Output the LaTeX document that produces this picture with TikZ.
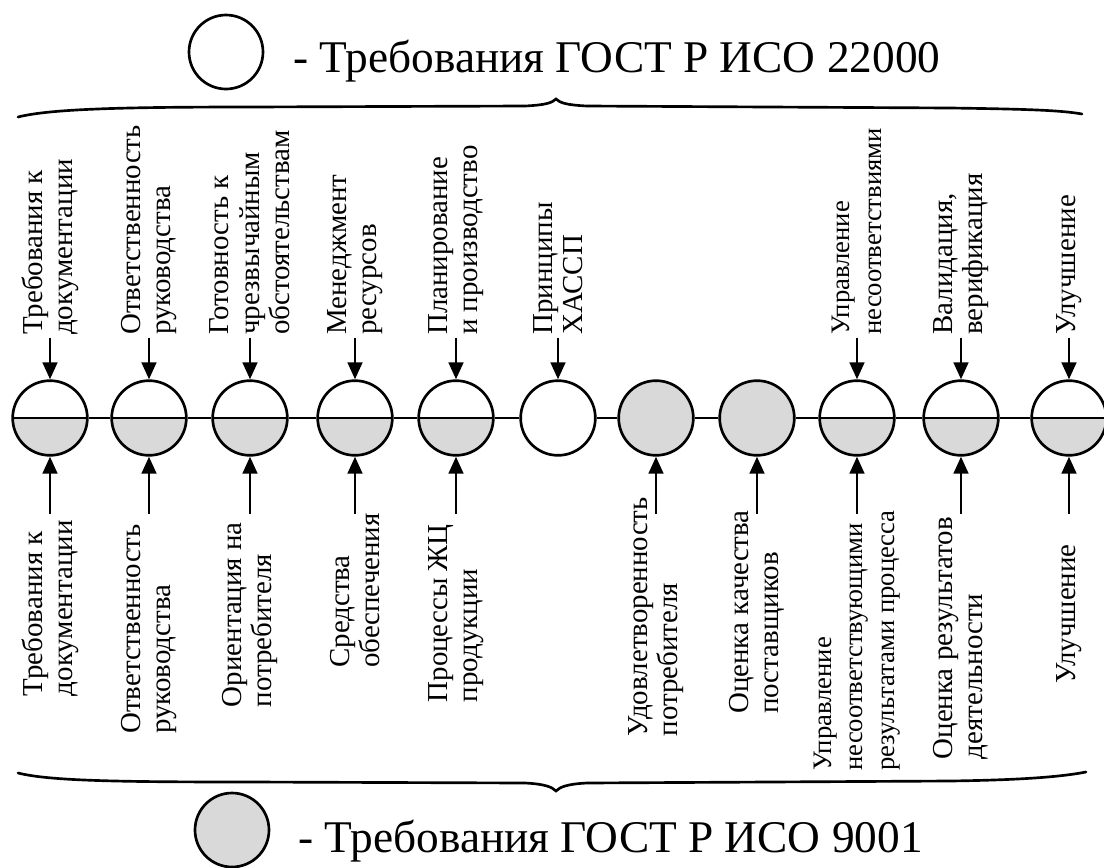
\documentclass[tikz,border=0pt]{standalone}
\usepackage{fontspec}
\setmainfont{Liberation Serif}
\usetikzlibrary{arrows.meta}
\definecolor{isogray}{RGB}{217,217,217}

\begin{document}
\begin{tikzpicture}[x=0.75pt,y=0.75pt,yscale=-1,xscale=1,
  stage/.style={circle, draw, line width=2pt, minimum size=56pt, inner sep=0pt},
  newreq/.style={stage, fill=white},
  oldreq/.style={stage, fill=isogray},
  halfreq/.style={stage, fill=white, path picture={
    \fill[isogray] (path picture bounding box.west) rectangle (path picture bounding box.south east);
    \draw[line width=1.5pt] (path picture bounding box.west) -- (path picture bounding box.east);}},
  toplabel/.style={rotate=90, anchor=west, align=left, inner sep=0pt, xshift=3pt, font=\fontsize{21.7}{22.8}\selectfont},
  botlabel/.style={rotate=90, anchor=east, align=left, inner sep=0pt, xshift=3pt, font=\fontsize{21.7}{22.8}\selectfont},
  smalllabel/.style={font=\fontsize{20}{23.5}\selectfont},
  legendtext/.style={anchor=base west, inner sep=0pt, font=\fontsize{34}{37}\selectfont},
  reqarrow/.style={line width=2pt, -{Triangle[length=12.75pt,width=11pt]}},
  axisline/.style={line width=1.5pt},
  bracestroke/.style={line width=2pt, line cap=round}
]
\useasboundingbox (0,0) rectangle (1104,868);

%Shape: Circle (legend, ISO 22000)
\node[newreq, minimum size=55.5pt] (legend-new) at (226,52) {};
% Text Node
\node[legendtext] (legend-new-text) at (293,72) {- Требования ГОСТ Р ИСО 22000};
%Curve Lines
\draw[bracestroke] (18,117) .. controls (50,109) and (120,107) .. (250,107) -- (525,106) .. controls (545,105) and (552,103) .. (556,99) .. controls (560,103) and (567,105) .. (587,106) -- (950,108) .. controls (1020,109) and (1060,110) .. (1082,114) ;

%Shape: Circle
\node[halfreq] (c-doc) at (50,418) {};
\node[halfreq] (c-resp) at (149,418) {};
\node[halfreq] (c-emerg) at (250,418) {};
\node[halfreq] (c-res) at (355,418) {};
\node[halfreq] (c-plan) at (456,418) {};
\node[newreq] (c-haccp) at (558,418) {};
\node[oldreq] (c-satisf) at (656,418) {};
\node[oldreq] (c-suppl) at (757,418) {};
\node[halfreq] (c-noncon) at (857,418) {};
\node[halfreq] (c-valid) at (961,418) {};
\node[halfreq] (c-improve) at (1069,418) {};
\coordinate (line-end) at (1104,418);

%Straight Lines
\draw[axisline] (c-doc) -- (c-resp) -- (c-emerg) -- (c-res) -- (c-plan) -- (c-haccp) -- (c-satisf) -- (c-suppl) -- (c-noncon) -- (c-valid) -- (c-improve) -- (line-end) ;

% Text Node (ISO 22000)
\node[toplabel] (t-doc) at (50,339) {Требования к\\документации};
\node[toplabel] (t-resp) at (149,339) {Ответственность\\руководства};
\node[toplabel] (t-emerg) at (250,339) {Готовность к\\чрезвычайным\\обстоятельствам};
\node[toplabel] (t-res) at (355,339) {Менеджмент\\ресурсов};
\node[toplabel] (t-plan) at (456,339) {Планирование\\и производство};
\node[toplabel] (t-haccp) at (558,339) {Принципы\\ХАССП};
\node[toplabel, smalllabel] (t-noncon) at (857,339) {Управление\\несоответствиями};
\node[toplabel] (t-valid) at (961,339) {Валидация,\\верификация};
\node[toplabel] (t-improve) at (1069,339) {Улучшение};

%Straight Lines
\draw[reqarrow, shorten <=2pt] (c-doc.north |- t-doc.west) -- (c-doc.north) ;
\draw[reqarrow, shorten <=2pt] (c-resp.north |- t-resp.west) -- (c-resp.north) ;
\draw[reqarrow, shorten <=2pt] (c-emerg.north |- t-emerg.west) -- (c-emerg.north) ;
\draw[reqarrow, shorten <=2pt] (c-res.north |- t-res.west) -- (c-res.north) ;
\draw[reqarrow, shorten <=2pt] (c-plan.north |- t-plan.west) -- (c-plan.north) ;
\draw[reqarrow, shorten <=2pt] (c-haccp.north |- t-haccp.west) -- (c-haccp.north) ;
\draw[reqarrow, shorten <=2pt] (c-noncon.north |- t-noncon.west) -- (c-noncon.north) ;
\draw[reqarrow, shorten <=2pt] (c-valid.north |- t-valid.west) -- (c-valid.north) ;
\draw[reqarrow, shorten <=2pt] (c-improve.north |- t-improve.west) -- (c-improve.north) ;

% Text Node (ISO 9001)
\node[botlabel] (b-doc) at (50,524) {Требования к\\документации};
\node[botlabel] (b-resp) at (149,528) {Ответственность\\руководства};
\node[botlabel] (b-focus) at (250,526) {Ориентация на\\потребителя};
\node[botlabel] (b-means) at (355,517) {Средства\\обеспечения};
\node[botlabel] (b-life) at (456,528) {Процессы ЖЦ\\продукции};
\node[botlabel] (b-satisf) at (656,501) {Удовлетворенность\\потребителя};
\node[botlabel] (b-suppl) at (757,514) {Оценка качества\\поставщиков};
\node[botlabel, smalllabel] (b-noncon) at (857,514) {Управление\\несоответствующими\\результатами процесса};
\node[botlabel] (b-valid) at (961,521) {Оценка результатов\\деятельности};
\node[botlabel] (b-improve) at (1069,548) {Улучшение};

\coordinate (a-doc) at (50,514);
\coordinate (a-resp) at (149,514);
\coordinate (a-focus) at (250,514);
\coordinate (a-means) at (355,514);
\coordinate (a-life) at (456,514);
\coordinate (a-satisf) at (656,514);
\coordinate (a-suppl) at (757,514);
\coordinate (a-noncon) at (857,514);
\coordinate (a-valid) at (961,514);
\coordinate (a-improve) at (1069,514);

%Straight Lines
\draw[reqarrow] (a-doc) -- (c-doc.south) ;
\draw[reqarrow] (a-resp) -- (c-resp.south) ;
\draw[reqarrow] (a-focus) -- (c-emerg.south) ;
\draw[reqarrow] (a-means) -- (c-res.south) ;
\draw[reqarrow] (a-life) -- (c-plan.south) ;
\draw[reqarrow] (a-satisf) -- (c-satisf.south) ;
\draw[reqarrow] (a-suppl) -- (c-suppl.south) ;
\draw[reqarrow] (a-noncon) -- (c-noncon.south) ;
\draw[reqarrow] (a-valid) -- (c-valid.south) ;
\draw[reqarrow] (a-improve) -- (c-improve.south) ;

%Curve Lines
\draw[bracestroke] (18,773) .. controls (50,781) and (120,782) .. (250,782) -- (525,783) .. controls (545,784) and (552,787) .. (556,791) .. controls (560,787) and (567,784) .. (587,783) -- (950,781) .. controls (1020,780) and (1060,777) .. (1086,772) ;

%Shape: Circle (legend, ISO 9001)
\node[oldreq, minimum size=55.5pt] (legend-old) at (232,830) {};
% Text Node
\node[legendtext] (legend-old-text) at (298,852) {- Требования ГОСТ Р ИСО 9001};

\end{tikzpicture}
\end{document}
